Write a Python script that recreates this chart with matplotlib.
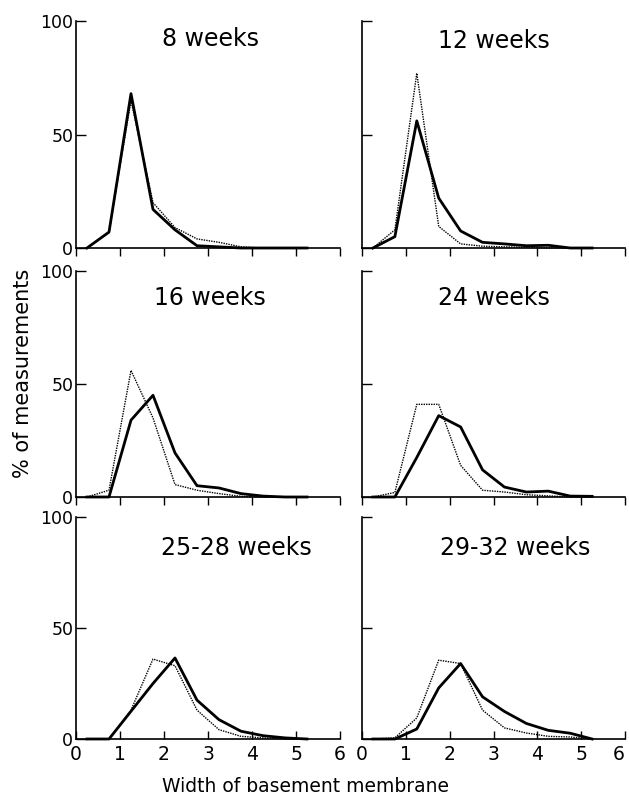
import matplotlib.pyplot as plt
import numpy as np

# bin centres (width of basement membrane)
x = np.array([0.25, 0.75, 1.25, 1.75, 2.25, 2.75, 3.25, 3.75, 4.25, 4.75, 5.25])

titles = ["8 weeks", "12 weeks", "16 weeks", "24 weeks", "25-28 weeks", "29-32 weeks"]

# solid line series (% of measurements)
solid_8 = [0, 7, 68, 17, 8, 1, 0.5, 0, 0, 0, 0]
solid_12 = [0, 5, 56, 22, 7.5, 2.5, 1.8, 1, 1.2, 0, 0]
solid_16 = [0, 0, 34, 45, 19.5, 5, 4, 1.5, 0.4, 0, 0]
solid_24 = [0, 0, 17.5, 36, 31, 12, 4.4, 2.2, 2.6, 0.4, 0.3]
solid_25_28 = [0, 0, 12.5, 25, 36.5, 17.5, 8.7, 3.5, 1.5, 0.5, 0]
solid_29_32 = [0, 0, 4.5, 23, 34, 19, 12.4, 7, 3.9, 2.6, 0]

# dotted line series
dotted_8 = [0, 7, 65, 20, 9, 4, 2.5, 0.5, 0, 0, 0]
dotted_12 = [0, 8, 77, 9.5, 1.8, 0.8, 0.5, 0.3, 0, 0, 0]
dotted_16 = [0, 3, 56, 35, 5.5, 3, 1.5, 0.3, 0, 0, 0]
dotted_24 = [0, 2, 41, 41, 14, 3, 2.2, 1, 0.5, 0, 0]
dotted_25_28 = [0, 0, 13, 36, 33, 13, 4.2, 1.2, 0.5, 0, 0]
dotted_29_32 = [0, 0.5, 9.5, 35.5, 34, 13, 5, 2.7, 1.2, 0.9, 0]

solids = [solid_8, solid_12, solid_16, solid_24, solid_25_28, solid_29_32]
dotteds = [dotted_8, dotted_12, dotted_16, dotted_24, dotted_25_28, dotted_29_32]

# title positions in data coords
title_pos = [(3.05, 92), (3.0, 91), (3.05, 88), (3.0, 88), (3.65, 86), (3.5, 86)]

plt.rcParams['font.family'] = 'DejaVu Sans'

fig = plt.figure(figsize=(6.29, 7.95), dpi=100)

W, H = 629, 795
cols = [(76, 340), (362, 625)]
rows = [(21, 248), (271, 497), (517, 739)]

for i in range(6):
    r, c = divmod(i, 2)
    x0, x1 = cols[c]
    yt, yb = rows[r]
    ax = fig.add_axes([x0 / W, 1 - yb / H, (x1 - x0) / W, (yb - yt) / H])
    ax.plot(x, dotteds[i], color='black', lw=1.0, ls=(0, (1, 0.8)), clip_on=False)
    ax.plot(x, solids[i], color='black', lw=2.0, clip_on=False)
    ax.set_xlim(0, 6)
    ax.set_ylim(0, 100)
    for s in ['top', 'right']:
        ax.spines[s].set_visible(False)
    for s in ['left', 'bottom']:
        ax.spines[s].set_linewidth(1.2)
    ax.set_xticks(range(7))
    ax.set_yticks([0, 50, 100])
    ax.tick_params(axis='y', direction='in', length=7, width=1.0, labelsize=12.5, pad=2)
    ax.tick_params(axis='x', direction='in' if r == 2 else 'out', length=6, width=1.0,
                   labelsize=13.5, pad=4)
    if r < 2:
        ax.set_xticklabels([])
    if c == 1:
        ax.set_yticklabels([])
    if r == 2 and c == 1:
        ax.get_xticklabels()[-1].set_horizontalalignment('right')
    tx, ty = title_pos[i]
    ax.text(tx, ty, titles[i], ha='center', va='center', fontsize=17)

fig.text(23 / W, 1 - 373 / H, "% of measurements", rotation=90, ha='center', va='center',
         fontsize=15)
fig.text(305 / W, 1 - 786 / H, "Width of basement membrane", ha='center', va='center',
         fontsize=13.5)

fig.savefig('out.png', dpi=100)
